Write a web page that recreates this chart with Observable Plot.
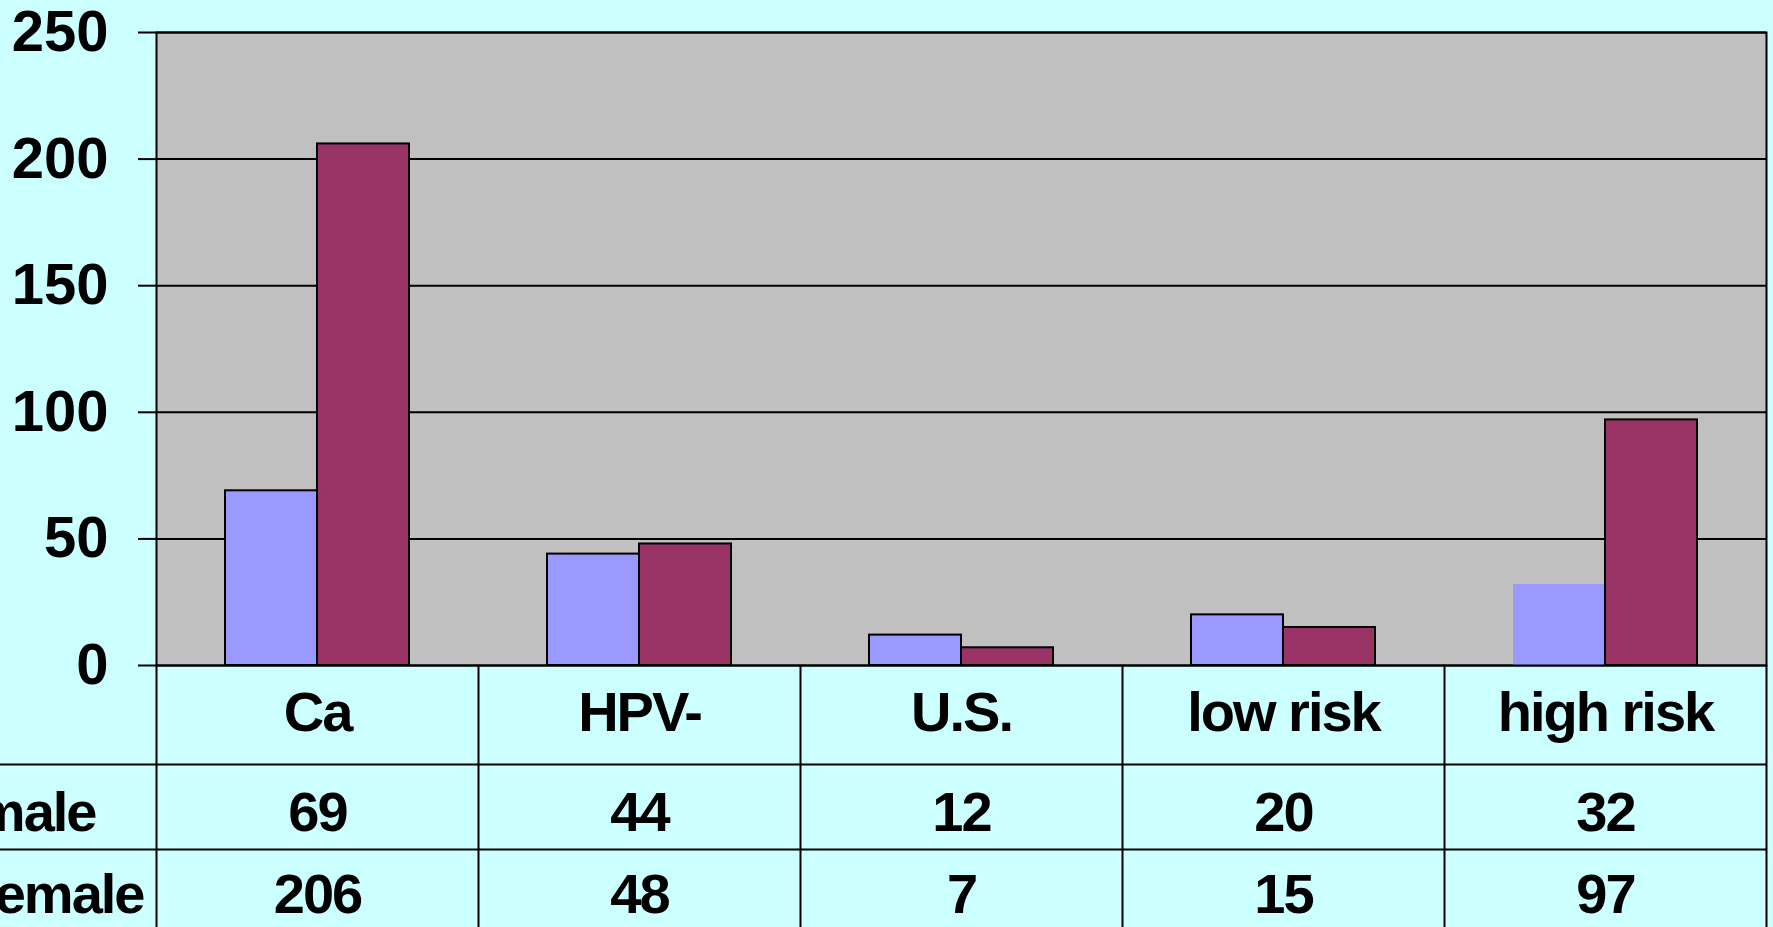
<!DOCTYPE html>
<html><head><meta charset="utf-8">
<script src="https://cdn.jsdelivr.net/npm/d3@7"></script>
<script src="https://cdn.jsdelivr.net/npm/@observablehq/plot@0.6"></script>
<style>
html,body{margin:0;padding:0;background:#ccffff;overflow:hidden}
#chart svg{display:block}
#chart g[aria-label="text"]{letter-spacing:-2px}
</style></head><body><div id="chart"></div>
<script>
const categories = ["Ca","HPV-","U.S.","low risk","high risk"];
const maleValues = [69,44,12,20,32];
const femaleValues = [206,48,7,15,97];
const seriesNames = ["male","female"];
const yTicks = [0,50,100,150,200,250];

const rows = categories.flatMap((c,i)=>[
  {category:c, series:seriesNames[0], value:maleValues[i]},
  {category:c, series:seriesNames[1], value:femaleValues[i]}
]);
const maleRows = rows.filter(d=>d.series==="male");
const femaleRows = rows.filter(d=>d.series==="female");

const W=1773, H=927, mL=156, mR=7, mT=32, mB=262;
const band = (W-mL-mR)/categories.length;
const barW = 92, gap = 69;
const font = "'Liberation Sans', Arial, Helvetica, sans-serif";
const fs = 58;
const frameH = H - mT - mB;
const txt = {fontSize:56, fontWeight:"bold", fill:"black", fontFamily:font, lineAnchor:"middle"};

const chart = Plot.plot({
  width:W, height:H, marginLeft:mL, marginRight:mR, marginTop:mT, marginBottom:mB,
  style:{background:"#ccffff", fontFamily:font, color:"black", overflow:"visible"},
  x:{type:"band", domain:categories, padding:0, axis:null},
  y:{domain:[0,250], axis:null},
  marks:[
    Plot.frame({fill:"#c0c0c0"}),
    Plot.gridY(yTicks, {stroke:"black", strokeOpacity:1, strokeWidth:2}),
    Plot.barY(maleRows.filter(d=>d.category!=="high risk"), {x:"category", y:"value", fill:"#9999ff", stroke:"black", strokeWidth:2, insetLeft:gap, insetRight:band-gap-barW}),
    Plot.barY(maleRows.filter(d=>d.category==="high risk"), {x:"category", y:"value", fill:"#9999ff", insetLeft:gap, insetRight:band-gap-barW}),
    Plot.barY(femaleRows, {x:"category", y:"value", fill:"#993366", stroke:"black", strokeWidth:2, insetLeft:gap+barW, insetRight:gap}),
    Plot.frame({stroke:"black", strokeWidth:2}),
    Plot.axisY(yTicks, {tickSize:18, tickPadding:30, fontSize:fs, fontWeight:"bold", strokeWidth:2, label:null, fill:"black", fontFamily:font}),
    // data table
    Plot.ruleY([0], {dy:99, insetLeft:-mL, stroke:"black", strokeWidth:2}),
    Plot.ruleY([0], {dy:184, insetLeft:-mL, stroke:"black", strokeWidth:2}),
    Plot.ruleX(categories, {x:d=>d, dx:-band/2, insetTop:frameH, insetBottom:-mB-5, stroke:"black", strokeWidth:2}),
    Plot.ruleX([categories[categories.length-1]], {x:d=>d, dx:band/2, insetTop:frameH, insetBottom:-mB-5, stroke:"black", strokeWidth:2}),
    Plot.text(categories, {x:d=>d, text:d=>d, frameAnchor:"bottom", dy:48, ...txt}),
    Plot.text(maleRows, {x:"category", text:d=>String(d.value), frameAnchor:"bottom", dy:148, ...txt}),
    Plot.text(femaleRows, {x:"category", text:d=>String(d.value), frameAnchor:"bottom", dy:230, ...txt}),
    Plot.text([seriesNames[0]], {text:d=>d, frameAnchor:"bottom-left", dx:-61, dy:148, textAnchor:"end", ...txt}),
    Plot.text([seriesNames[1]], {text:d=>d, frameAnchor:"bottom-left", dx:-13, dy:230, textAnchor:"end", ...txt})
  ]
});
document.getElementById("chart").appendChild(chart);
</script>
</body></html>
